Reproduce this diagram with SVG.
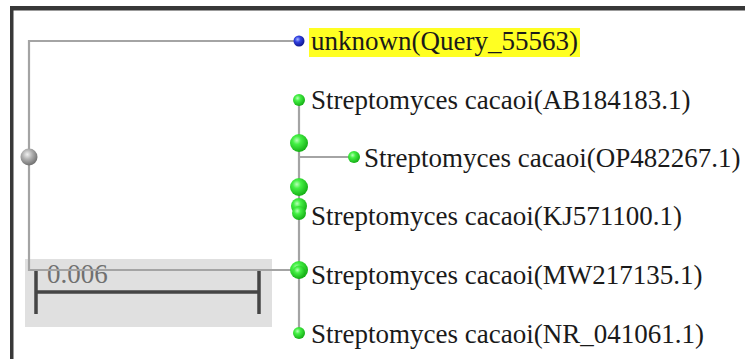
<svg xmlns="http://www.w3.org/2000/svg" width="745" height="359" viewBox="0 0 745 359">
<defs>
<radialGradient id="gG" cx="0.38" cy="0.35" r="0.65">
<stop offset="0" stop-color="#b8ffb8"/>
<stop offset="0.35" stop-color="#44f044"/>
<stop offset="1" stop-color="#16b016"/>
</radialGradient>
<radialGradient id="gB" cx="0.38" cy="0.35" r="0.65">
<stop offset="0" stop-color="#a8b8ff"/>
<stop offset="0.4" stop-color="#3040e0"/>
<stop offset="1" stop-color="#101890"/>
</radialGradient>
<radialGradient id="gR" cx="0.4" cy="0.35" r="0.65">
<stop offset="0" stop-color="#f0f0f0"/>
<stop offset="0.45" stop-color="#b0b0b0"/>
<stop offset="1" stop-color="#707070"/>
</radialGradient>
</defs>
<style>
text{font-family:'Liberation Serif','Times New Roman',serif}
.lbl{font-size:27px;fill:#1a1a1a}
.br{stroke:#a4a4a4;stroke-width:2.2;fill:none}
.sc{stroke:#454545;stroke-width:3.5;fill:none}
</style>
<rect width="745" height="359" fill="#ffffff"/>
<rect x="10" y="6" width="735" height="4.5" fill="#383838"/>
<rect x="10" y="6" width="3.5" height="353" fill="#383838"/>
<g id="scalebar">
<rect x="25" y="259" width="247" height="68" fill="#e0e0e0"/>
<line class="sc" x1="36" y1="292" x2="259" y2="292"/>
<line class="sc" x1="36" y1="271" x2="36" y2="314"/>
<line class="sc" x1="259" y1="271" x2="259" y2="314"/>
<text x="47" y="283" font-size="27" fill="#707070">0.006</text>
</g>
<g id="connectors">
<path class="br" d="M297,41 H29 V270 H299"/>
<path class="br" d="M299,100 V333"/>
<path class="br" d="M299,157 H353"/>
</g>
<g id="root"><circle cx="29" cy="157" r="8.5" fill="url(#gR)"/></g>
<g id="query">
<rect x="309" y="28" width="271" height="29" fill="#ffff22"/>
<circle cx="299" cy="41" r="5.5" fill="url(#gB)"/>
<text class="lbl" x="311" y="50">unknown(Query_55563)</text>
</g>
<g id="int1"><circle cx="299" cy="143" r="9" fill="url(#gG)"/></g>
<g id="int2"><circle cx="299" cy="187" r="9" fill="url(#gG)"/></g>
<g id="int3"><circle cx="299" cy="206" r="8" fill="url(#gG)"/></g>
<g id="int4"><circle cx="299" cy="270" r="9" fill="url(#gG)"/></g>
<g id="leafAB">
<circle cx="299" cy="100" r="6" fill="url(#gG)"/>
<text class="lbl" x="311" y="109">Streptomyces cacaoi(AB184183.1)</text>
</g>
<g id="leafOP">
<circle cx="354" cy="157" r="6" fill="url(#gG)"/>
<text class="lbl" x="364" y="167">Streptomyces cacaoi(OP482267.1)</text>
</g>
<g id="leafKJ">
<circle cx="299" cy="213" r="7" fill="url(#gG)"/>
<text class="lbl" x="311" y="225">Streptomyces cacaoi(KJ571100.1)</text>
</g>
<g id="leafMW">
<circle cx="299" cy="272" r="6.5" fill="url(#gG)"/>
<text class="lbl" x="311" y="284">Streptomyces cacaoi(MW217135.1)</text>
</g>
<g id="leafNR">
<circle cx="299" cy="333" r="6" fill="url(#gG)"/>
<text class="lbl" x="311" y="343">Streptomyces cacaoi(NR_041061.1)</text>
</g>
</svg>
